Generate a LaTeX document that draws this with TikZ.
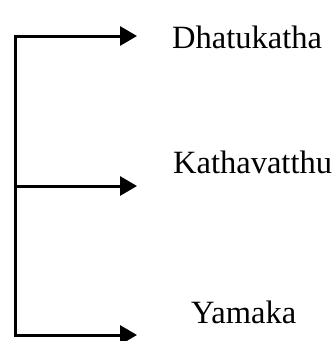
\documentclass[tikz,border=0pt]{standalone}
\usepackage{fontspec}
\setmainfont{Liberation Serif}
\usetikzlibrary{arrows.meta, positioning}

\begin{document}
\begin{tikzpicture}[
	x=1pt, y=-1pt,
	every node/.style={anchor=west, inner sep=0pt, font=\fontsize{32.5}{38}\selectfont},
	arrow/.style={-{Triangle[length=17pt, width=19pt]}, line width=3pt},
	trunk/.style={line width=3pt, line cap=rect}
	]
	\useasboundingbox (0,0) rectangle (335,341);
	
	% Nodes
	\node (dhatukatha) at (172,37) {Dhatukatha};
	\node (kathavatthu) at (173,162) {Kathavatthu};
	\node (yamaka) at (191,312) {Yamaka};
	
	% Branch points
	\coordinate (top) at (15,36);
	\coordinate (middle) at (15,186);
	\coordinate (bottom) at (15,335);
	\coordinate (top_end) at (137,36);
	\coordinate (middle_end) at (137,186);
	\coordinate (bottom_end) at (137,335);
	
	% Connections
	\draw [trunk] (top) -- (bottom);
	\draw [arrow] (top) -- (top_end);
	\draw [arrow] (middle) -- (middle_end);
	\draw [arrow] (bottom) -- (bottom_end);
	
\end{tikzpicture}
\end{document}
